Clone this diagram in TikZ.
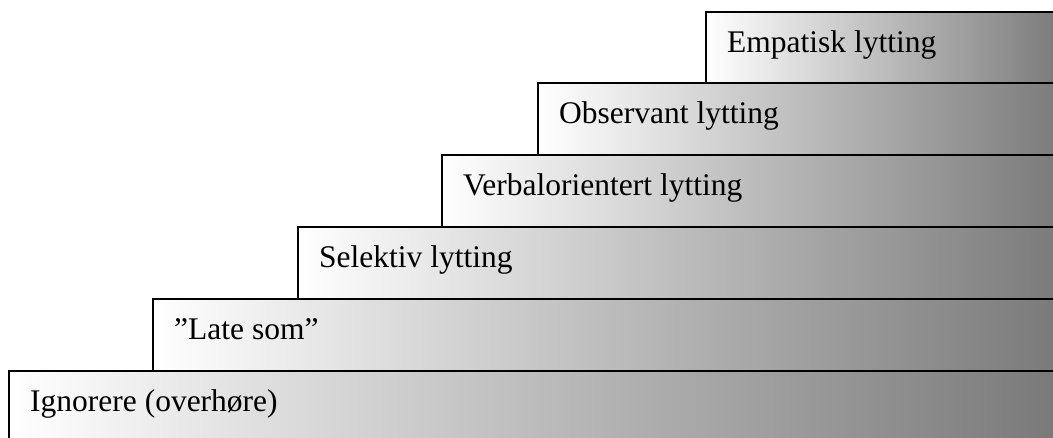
\documentclass[tikz,border=0pt]{standalone}
\usepackage{fontspec}
\setmainfont{Liberation Serif}
\begin{document}
\begin{tikzpicture}[x=1pt,y=-1pt,
  stepbox/.style={draw=black, line width=1.6pt, left color=white, right color=black!53,
    anchor=north west, inner sep=0pt, outer sep=0pt},
  steplabel/.style={anchor=base west, inner sep=0pt, font=\fontsize{31.5}{37}\selectfont}]
\useasboundingbox (0,0) rectangle (1053,437);
\clip (0,0) rectangle (1053,437);
\node[stepbox, minimum width=1060pt, minimum height=80pt] (b1) at (9,371) {};
\node[stepbox, minimum width=920pt, minimum height=72pt] (b2) at (153,299) {};
\node[stepbox, minimum width=775pt, minimum height=72pt] (b3) at (298,227) {};
\node[stepbox, minimum width=630pt, minimum height=72pt] (b4) at (442,155) {};
\node[stepbox, minimum width=535pt, minimum height=72pt] (b5) at (538,83) {};
\node[stepbox, minimum width=360pt, minimum height=71pt] (b6) at (706,12) {};
\node[steplabel] (t1) at ([xshift=21pt,yshift=-40pt]b1.north west) {Ignorere (overhøre)};
\node[steplabel] (t2) at ([xshift=21pt,yshift=-40pt]b2.north west) {”Late som”};
\node[steplabel] (t3) at ([xshift=21pt,yshift=-40pt]b3.north west) {Selektiv lytting};
\node[steplabel] (t4) at ([xshift=21pt,yshift=-40pt]b4.north west) {Verbalorientert lytting};
\node[steplabel] (t5) at ([xshift=21pt,yshift=-40pt]b5.north west) {Observant lytting};
\node[steplabel] (t6) at ([xshift=21pt,yshift=-40pt]b6.north west) {Empatisk lytting};
\end{tikzpicture}
\end{document}
